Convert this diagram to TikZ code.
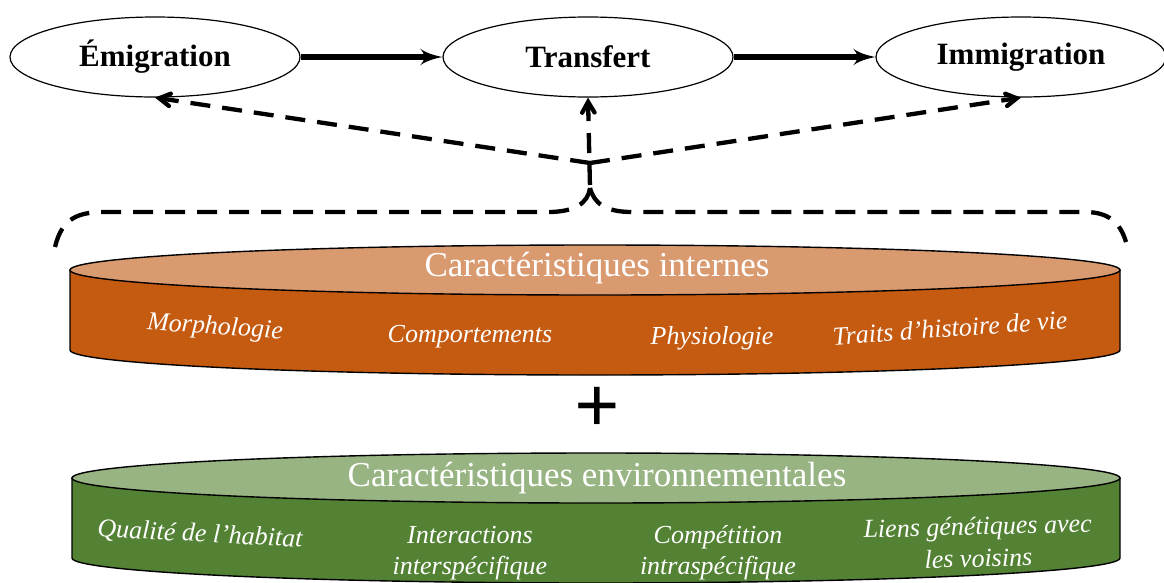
\documentclass[tikz,border=0pt]{standalone}
\usepackage{fontspec}
\setmainfont{Liberation Serif}
\usetikzlibrary{shapes,arrows}
\definecolor{orangetop}{RGB}{218,154,112}
\definecolor{orangeside}{RGB}{197,90,17}
\definecolor{greentop}{RGB}{151,180,130}
\definecolor{greenside}{RGB}{84,130,53}
\tikzstyle{stage} = [draw, ellipse, line width=1.2pt,
    minimum width=290pt, minimum height=80pt,
    font=\fontsize{31}{34}\selectfont\bfseries]
\tikzstyle{flow} = [line width=6.5pt, -latex']
\tikzstyle{effect} = [line width=4.3pt, dash pattern=on 20pt off 12pt, -angle 60]
\tikzstyle{brace} = [line width=4.3pt, dash pattern=on 20pt off 12pt]
\tikzstyle{title} = [text=white, font=\fontsize{35}{38}\selectfont]
\tikzstyle{trait} = [text=white, align=center,
    font=\fontsize{26}{31}\selectfont\itshape]

\begin{document}
\begin{tikzpicture}[x=1pt, y=-1pt, node distance=433pt]
    \useasboundingbox (0,0) rectangle (1164,582);
    % We start by placing the three stages
    \node [stage] (emig) at (155,57) {Émigration};
    \node [stage, right of=emig] (transfert) {Transfert};
    \node [stage, right of=transfert] (immig) {Immigration};
    \draw [flow] (emig) -- (transfert);
    \draw [flow] (transfert) -- (immig);

    % The dashed brace joins the internal traits to the stages
    \coordinate (hub) at (590,163);
    \coordinate (apex) at (590,188);
    \coordinate (braceL) at (55,247);
    \coordinate (braceR) at (1126,242);
    \draw [brace] (braceL) .. controls (62,218) and (78,212) .. (105,212)
        -- (548,212) .. controls (575,212) and (588,203) .. (apex);
    \draw [brace] (apex) .. controls (594,203) and (605,212) .. (632,212)
        -- (1085,212) .. controls (1108,212) and (1120,222) .. (braceR);
    \draw [effect, dash phase=29pt] (apex) -- (transfert.south);
    \draw [effect] (hub) -- (emig.south);
    \draw [effect] (hub) -- (immig.south);

    % Internal characteristics (orange disc)
    \filldraw [fill=orangeside, line width=1.4pt] (70,270) -- (70,350)
        arc [start angle=180, end angle=0, x radius=525, y radius=25]
        -- (1120,270) -- cycle;
    \filldraw [fill=orangetop, line width=1.4pt] (595,270) ellipse [x radius=525, y radius=25];
    \node [title] (internes) at (597,268) {Caractéristiques internes};
    \node [trait, rotate=-4] (morpho) at (215,328) {Morphologie};
    \node [trait] (compo) at (470,337) {Comportements};
    \node [trait] (physio) at (712,338) {Physiologie};
    \node [trait, rotate=4] (traits) at (950,328) {Traits d’histoire de vie};

    \node [font=\fontsize{80}{80}\selectfont\bfseries] (plus) at (597,410) {+};

    % Environmental characteristics (green disc)
    \filldraw [fill=greenside, line width=1.4pt] (72,478) -- (72,558)
        arc [start angle=180, end angle=0, x radius=524, y radius=25]
        -- (1120,478) -- cycle;
    \filldraw [fill=greentop, line width=1.4pt] (596,478) ellipse [x radius=524, y radius=25];
    \node [title] (environ) at (597,478) {Caractéristiques environnementales};
    \node [trait, rotate=-3] (qualite) at (200,535) {Qualité de l’habitat};
    \node [trait] (inter) at (470,553) {Interactions\\interspécifique};
    \node [trait] (compet) at (718,553) {Compétition\\intraspécifique};
    \node [trait, rotate=1.5, font=\fontsize{26}{32}\selectfont\itshape]
        (liens) at (978,542) {Liens génétiques avec\\les voisins};
\end{tikzpicture}
\end{document}
